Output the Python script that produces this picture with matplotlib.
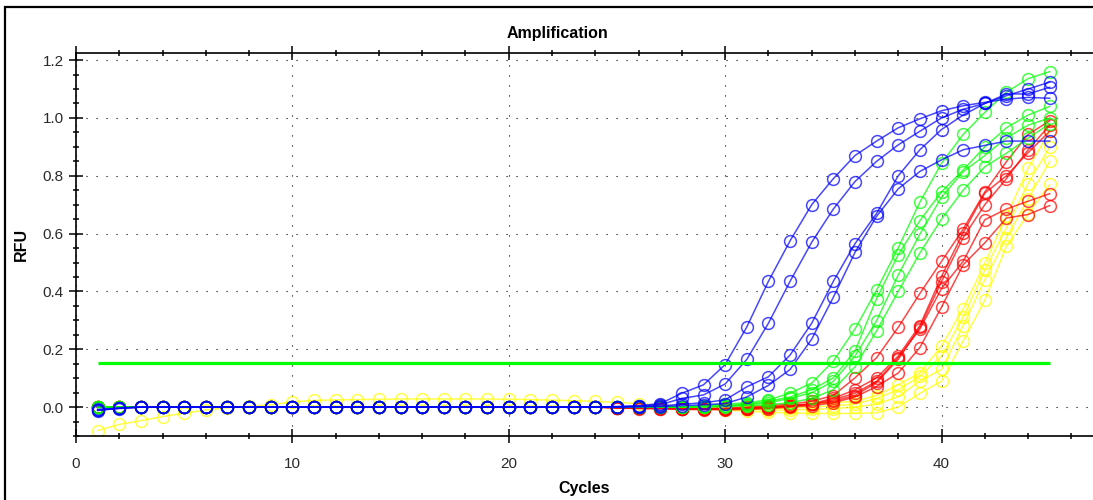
"""Amplification plot (RFU vs cycles) recreated with matplotlib."""

import matplotlib
matplotlib.use("Agg")
import matplotlib.pyplot as plt
from matplotlib.patches import Rectangle
from matplotlib.ticker import MultipleLocator

# ---- data -----------------------------------------------------------------
cycles = list(range(1, 46))

blue_1 = [-0.010, -0.005, 0.000, 0.000, 0.000, 0.000, 0.000, 0.000, 0.000, 0.000,
          0.000, 0.000, 0.000, 0.000, 0.000, 0.000, 0.000, 0.000, 0.000, 0.000,
          0.000, 0.000, 0.000, 0.000, 0.002, 0.005, 0.012, 0.048, 0.077, 0.147,
          0.277, 0.435, 0.575, 0.700, 0.790, 0.870, 0.920, 0.966, 0.997, 1.025,
          1.042, 1.054, 1.065, 1.071, 1.068]
blue_2 = [-0.012, -0.004, 0.000, 0.000, 0.000, 0.000, 0.000, 0.000, 0.000, 0.000,
          0.000, 0.000, 0.000, 0.000, 0.000, 0.000, 0.000, 0.000, 0.000, 0.000,
          0.000, 0.000, 0.000, 0.000, 0.001, 0.003, 0.008, 0.030, 0.042, 0.080,
          0.165, 0.290, 0.435, 0.570, 0.685, 0.780, 0.850, 0.907, 0.954, 1.000,
          1.030, 1.050, 1.083, 1.083, 1.106]
blue_3 = [-0.008, -0.003, 0.000, 0.000, 0.000, 0.000, 0.000, 0.000, 0.000, 0.000,
          0.000, 0.000, 0.000, 0.000, 0.000, 0.000, 0.000, 0.000, 0.000, 0.000,
          0.000, 0.000, 0.000, 0.000, 0.000, 0.002, 0.004, 0.010, 0.015, 0.025,
          0.070, 0.105, 0.180, 0.290, 0.435, 0.565, 0.670, 0.800, 0.890, 0.960,
          1.010, 1.050, 1.077, 1.100, 1.124]
blue_4 = [-0.010, -0.004, 0.000, 0.000, 0.000, 0.000, 0.000, 0.000, 0.000, 0.000,
          0.000, 0.000, 0.000, 0.000, 0.000, 0.000, 0.000, 0.000, 0.000, 0.000,
          0.000, 0.000, 0.000, 0.000, 0.000, 0.001, 0.002, 0.005, 0.008, 0.012,
          0.035, 0.075, 0.130, 0.235, 0.380, 0.535, 0.660, 0.755, 0.815, 0.855,
          0.890, 0.905, 0.920, 0.920, 0.920]

green_1 = [0.002, 0.000, 0.000, 0.000, 0.000, 0.000, 0.000, 0.000, 0.000, 0.000,
           0.000, 0.000, 0.000, 0.000, 0.000, 0.000, 0.000, 0.000, 0.000, 0.000,
           0.000, 0.000, 0.000, 0.000, 0.000, 0.000, 0.000, 0.000, 0.005, 0.010,
           0.015, 0.025, 0.048, 0.083, 0.159, 0.270, 0.405, 0.551, 0.709, 0.843,
           0.943, 1.019, 1.089, 1.136, 1.160]
green_2 = [0.000, 0.000, 0.000, 0.000, 0.000, 0.000, 0.000, 0.000, 0.000, 0.000,
           0.000, 0.000, 0.000, 0.000, 0.000, 0.000, 0.000, 0.000, 0.000, 0.000,
           0.000, 0.000, 0.000, 0.000, 0.000, 0.000, 0.000, 0.000, 0.002, 0.005,
           0.010, 0.020, 0.035, 0.060, 0.101, 0.194, 0.375, 0.527, 0.645, 0.744,
           0.820, 0.900, 0.966, 1.010, 1.040]
green_3 = [0.000, 0.000, 0.000, 0.000, 0.000, 0.000, 0.000, 0.000, 0.000, 0.000,
           0.000, 0.000, 0.000, 0.000, 0.000, 0.000, 0.000, 0.000, 0.000, 0.000,
           0.000, 0.000, 0.000, 0.000, 0.000, 0.000, 0.000, 0.000, 0.002, 0.004,
           0.008, 0.015, 0.030, 0.050, 0.089, 0.176, 0.299, 0.457, 0.598, 0.726,
           0.814, 0.870, 0.931, 0.975, 1.000]
green_4 = [-0.002, 0.000, 0.000, 0.000, 0.000, 0.000, 0.000, 0.000, 0.000, 0.000,
           0.000, 0.000, 0.000, 0.000, 0.000, 0.000, 0.000, 0.000, 0.000, 0.000,
           0.000, 0.000, 0.000, 0.000, 0.000, 0.000, 0.000, 0.000, 0.000, 0.002,
           0.005, 0.008, 0.015, 0.030, 0.060, 0.139, 0.264, 0.400, 0.533, 0.650,
           0.750, 0.831, 0.878, 0.930, 0.980]

red_1 = [0.000, 0.000, 0.000, 0.000, 0.000, 0.000, 0.000, 0.000, 0.000, 0.000,
         0.000, 0.000, 0.000, 0.000, 0.000, 0.000, 0.000, 0.000, 0.000, 0.000,
         0.000, 0.000, 0.000, 0.000, -0.002, -0.003, -0.003, -0.005, -0.005, -0.004,
         0.000, 0.005, 0.010, 0.020, 0.040, 0.101, 0.171, 0.276, 0.393, 0.504,
         0.615, 0.744, 0.849, 0.943, 0.990]
red_2 = [0.000, 0.000, 0.000, 0.000, 0.000, 0.000, 0.000, 0.000, 0.000, 0.000,
         0.000, 0.000, 0.000, 0.000, 0.000, 0.000, 0.000, 0.000, 0.000, 0.000,
         0.000, 0.000, 0.000, 0.000, -0.002, -0.003, -0.004, -0.005, -0.006, -0.006,
         -0.004, 0.000, 0.005, 0.012, 0.030, 0.060, 0.101, 0.177, 0.282, 0.452,
         0.603, 0.740, 0.800, 0.880, 0.954]
red_3 = [0.000, 0.000, 0.000, 0.000, 0.000, 0.000, 0.000, 0.000, 0.000, 0.000,
         0.000, 0.000, 0.000, 0.000, 0.000, 0.000, 0.000, 0.000, 0.000, 0.000,
         0.000, 0.000, 0.000, 0.000, -0.002, -0.004, -0.005, -0.006, -0.007, -0.007,
         -0.005, -0.002, 0.003, 0.010, 0.025, 0.048, 0.089, 0.171, 0.270, 0.410,
         0.504, 0.648, 0.685, 0.712, 0.738]
red_4 = [0.000, 0.000, 0.000, 0.000, 0.000, 0.000, 0.000, 0.000, 0.000, 0.000,
         0.000, 0.000, 0.000, 0.000, 0.000, 0.000, 0.000, 0.000, 0.000, 0.000,
         0.000, 0.000, 0.000, 0.000, -0.003, -0.005, -0.006, -0.008, -0.009, -0.009,
         -0.008, -0.005, 0.000, 0.005, 0.015, 0.035, 0.071, 0.118, 0.206, 0.346,
         0.492, 0.568, 0.654, 0.666, 0.697]
red_5 = [0.000, 0.000, 0.000, 0.000, 0.000, 0.000, 0.000, 0.000, 0.000, 0.000,
         0.000, 0.000, 0.000, 0.000, 0.000, 0.000, 0.000, 0.000, 0.000, 0.000,
         0.000, 0.000, 0.000, 0.000, -0.002, -0.003, -0.004, -0.006, -0.006, -0.006,
         -0.004, -0.001, 0.004, 0.010, 0.020, 0.040, 0.085, 0.165, 0.276, 0.434,
         0.586, 0.700, 0.790, 0.890, 0.975]

yellow_1 = [0.000, 0.000, 0.000, 0.000, 0.000, 0.000, 0.000, 0.000, 0.000, 0.000,
            0.000, 0.000, 0.000, 0.000, 0.000, 0.000, 0.000, 0.000, 0.000, 0.000,
            0.000, 0.000, 0.000, 0.000, 0.000, 0.000, 0.000, -0.002, -0.003, -0.003,
            0.000, 0.003, 0.006, 0.010, 0.015, 0.020, 0.040, 0.077, 0.118, 0.212,
            0.340, 0.498, 0.660, 0.826, 0.954]
yellow_2 = [0.000, 0.000, 0.000, 0.000, 0.000, 0.000, 0.000, 0.000, 0.000, 0.000,
            0.000, 0.000, 0.000, 0.000, 0.000, 0.000, 0.000, 0.000, 0.000, 0.000,
            0.000, 0.000, 0.000, 0.000, 0.000, -0.002, -0.003, -0.004, -0.005, -0.006,
            -0.006, -0.005, -0.003, 0.000, 0.005, 0.010, 0.030, 0.060, 0.107, 0.177,
            0.311, 0.475, 0.621, 0.773, 0.900]
yellow_3 = [0.000, 0.000, 0.000, 0.000, 0.000, 0.000, 0.000, 0.000, 0.000, 0.000,
            0.000, 0.000, 0.000, 0.000, 0.000, 0.000, 0.000, 0.000, 0.000, 0.000,
            0.000, 0.000, 0.000, 0.000, -0.001, -0.002, -0.003, -0.004, -0.005, -0.005,
            -0.008, -0.010, -0.010, -0.008, -0.005, 0.000, 0.010, 0.036, 0.090, 0.130,
            0.282, 0.440, 0.586, 0.720, 0.850]
yellow_4 = [-0.081, -0.060, -0.047, -0.033, -0.021, -0.010, -0.002, 0.003, 0.008, 0.018,
            0.023, 0.025, 0.026, 0.027, 0.028, 0.028, 0.028, 0.028, 0.028, 0.027,
            0.026, 0.024, 0.022, 0.020, 0.016, 0.012, 0.006, 0.000, -0.005, -0.010,
            -0.014, -0.018, -0.020, -0.022, -0.022, -0.022, -0.020, 0.000, 0.048, 0.089,
            0.229, 0.370, 0.557, 0.668, 0.770]

threshold = 0.153
threshold_span = [1, 45]

x_ticks = [0, 10, 20, 30, 40]
y_ticks = [0.0, 0.2, 0.4, 0.6, 0.8, 1.0, 1.2]
y_tick_labels = ["0.0", "0.2", "0.4", "0.6", "0.8", "1.0", "1.2"]

# drawing order: yellow at the back, blue on top
groups = [
    ("#ffff00", [yellow_1, yellow_2, yellow_3, yellow_4]),
    ("#ff0000", [red_1, red_2, red_3, red_4, red_5]),
    ("#00ff00", [green_1, green_2, green_3, green_4]),
    ("#0000ff", [blue_1, blue_2, blue_3, blue_4]),
]


def apply_plot_style() -> None:
    plt.rcParams.update(
        {
            "font.family": ["Liberation Sans", "DejaVu Sans"],
            "font.size": 11,
            "axes.linewidth": 1.2,
            "xtick.labelcolor": "#2a2a2a",
            "ytick.labelcolor": "#2a2a2a",
        }
    )


apply_plot_style()

W, H = 1093, 500
fig = plt.figure(figsize=(W / 100, H / 100), dpi=100)
ax = fig.add_axes([76 / W, (H - 436) / H, (W - 76) / W, (436 - 53) / H])

for color, series in groups:
    for values in series:
        ax.plot(cycles, values, color=color, alpha=0.72, lw=1.1,
                marker="o", ms=8.5, mfc="none", mew=1.1, mec=color)

ax.plot(threshold_span, [threshold, threshold], color="#00ff00", lw=2.3,
        solid_capstyle="butt", zorder=5)

ax.set_xlim(0, 47)
ax.set_ylim(-0.1, 1.2246)
ax.set_xticks(x_ticks)
ax.set_yticks(y_ticks)
ax.set_yticklabels(y_tick_labels)
ax.xaxis.set_minor_locator(MultipleLocator(2))
ax.yaxis.set_minor_locator(MultipleLocator(0.05))

ax.tick_params(axis="both", which="major", direction="inout", length=10, width=1.1,
               labelsize=11)
ax.tick_params(axis="both", which="minor", direction="inout", length=5, width=1.1)
ax.tick_params(axis="x", which="major", pad=10)
ax.tick_params(axis="y", which="major", pad=4)
ax.tick_params(axis="x", which="both", top=True)

ax.spines["right"].set_visible(False)
ax.grid(True, which="major", color="black", lw=0.8, linestyle=(0, (1, 8)))
ax.set_axisbelow(True)

ax.set_xlabel("Cycles", fontweight="bold", fontsize=11.5, labelpad=7)
ax.set_ylabel("RFU", fontweight="bold", fontsize=11.5, labelpad=10)
fig.text(557 / W, 1 - 33 / H, "Amplification", ha="center", va="center",
         fontweight="bold", fontsize=11.5)

# outer frame of the exported picture (only left and top edges fall inside)
fig.add_artist(Rectangle((5 / W, -0.5), 2.0, 1.5 - 7 / H, transform=fig.transFigure,
                         fill=False, edgecolor="black", lw=1.6, clip_on=False))

fig.savefig("out.png", dpi=100)
